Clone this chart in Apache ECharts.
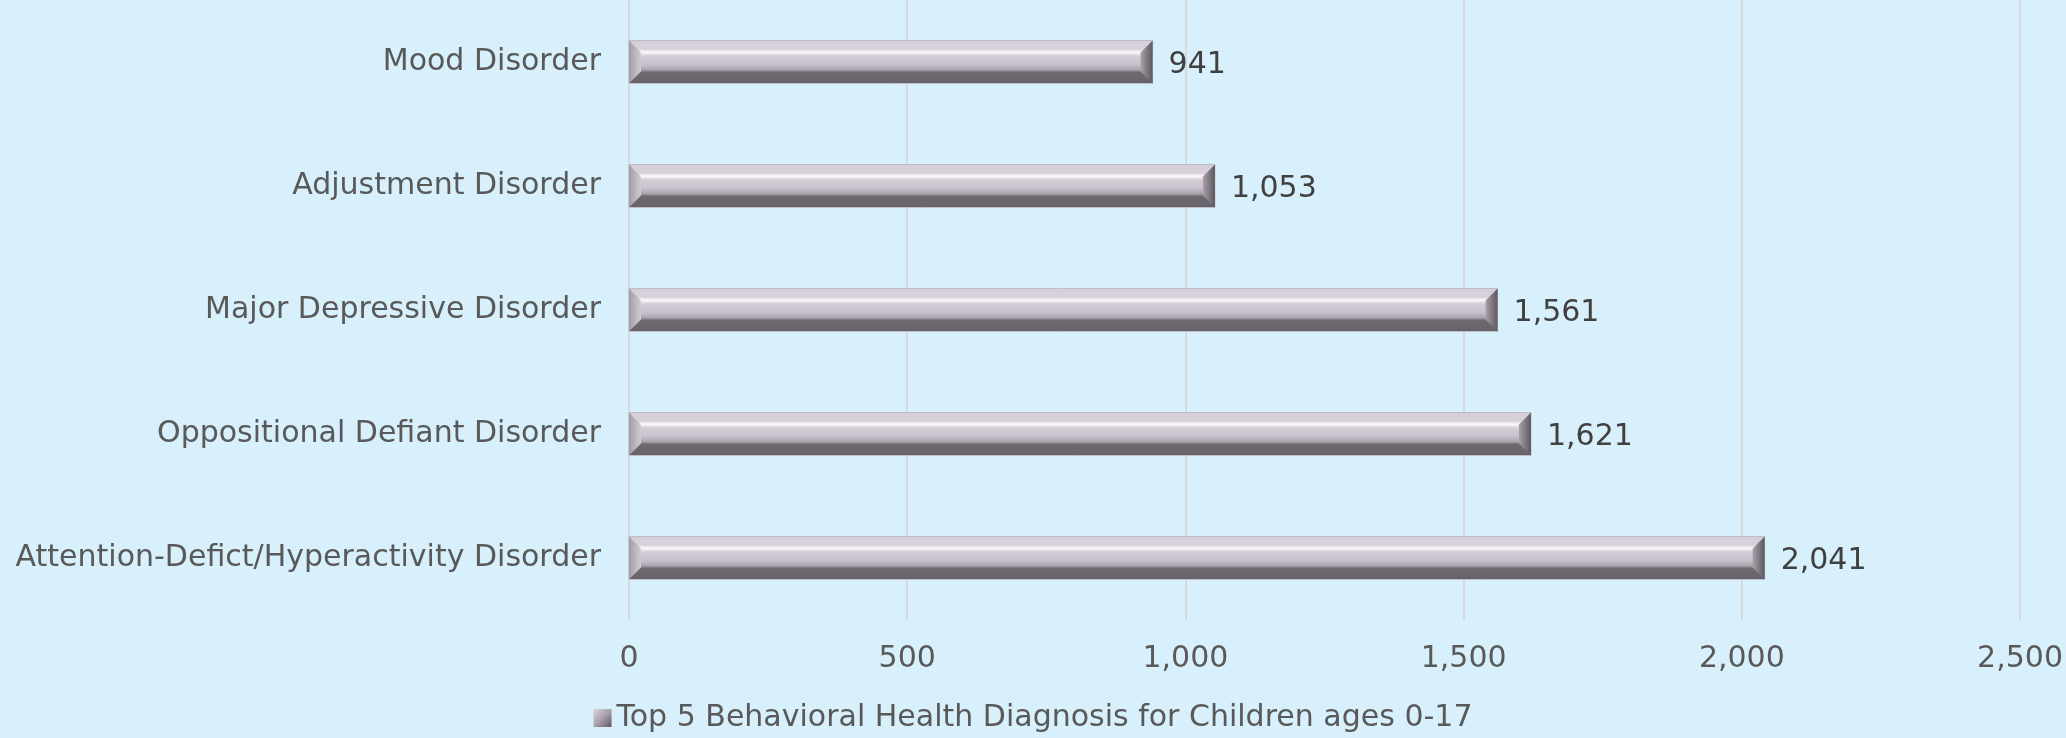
<!DOCTYPE html>
<html><head><meta charset="utf-8">
<style>html,body{margin:0;padding:0;background:#d8f0fb;}#c{width:2066px;height:738px;}</style>
<script src="https://cdn.jsdelivr.net/npm/echarts@6/dist/echarts.min.js"></script>
</head><body><div id="c"></div>
<script>
const categories = ['Mood Disorder','Adjustment Disorder','Major Depressive Disorder','Oppositional Defiant Disorder','Attention-Defict/Hyperactivity Disorder'];
const values = [941, 1053, 1561, 1621, 2041];
const xTicks = [0, 500, 1000, 1500, 2000, 2500];
const seriesName = 'Top 5 Behavioral Health Diagnosis for Children ages 0-17';

const FONT = 'DejaVu Sans';
const FS = 30;
const chart = echarts.init(document.getElementById('c'), null, {renderer:'canvas'});
const bodyGrad = (y0, y1) => new echarts.graphic.LinearGradient(0, y0, 0, y1, [
  {offset:0, color:'#d5cdd8'},{offset:0.2, color:'#d8d0da'},{offset:0.27, color:'#fefafe'},
  {offset:0.36, color:'#d4ccd6'},{offset:0.55, color:'#c9c1cb'},{offset:0.68, color:'#aaa2ac'},
  {offset:0.74, color:'#6e6870'},{offset:1, color:'#67616a'}], true);
chart.setOption({
  backgroundColor:'#d8f0fb',
  animation:false,
  grid:{left:629, right:37, top:0, bottom:118, containLabel:false},
  legend:{bottom:0, left:'center', itemWidth:18, itemHeight:18, itemGap:6,
    textStyle:{fontFamily:FONT, fontSize:FS, color:'#595959'},
    data:[{name:seriesName, icon:'rect', itemStyle:{color:new echarts.graphic.LinearGradient(0,0,1,1,[{offset:0,color:'#dcd4de'},{offset:0.5,color:'#a8a0aa'},{offset:1,color:'#5e5860'}])}}]},
  xAxis:{type:'value', min:0, max:2500, interval:500,
    axisLine:{show:false}, axisTick:{show:false},
    splitLine:{lineStyle:{color:'#d9d9d9', width:2}},
    axisLabel:{fontFamily:FONT, fontSize:FS, color:'#595959', margin:24,
      formatter:v => xTicks.includes(v) ? v.toLocaleString('en-US') : ''}},
  yAxis:{type:'category', data:categories, inverse:true,
    axisLine:{show:false}, axisTick:{show:false},
    axisLabel:{fontFamily:FONT, fontSize:FS, color:'#595959', margin:28, padding:[5,0,0,0]}},
  series:[{
    type:'custom', name:seriesName,
    encode:{x:0, y:1},
    data: values.map((v,i)=>[v,i]),
    renderItem:(params, api)=>{
      const p0 = api.coord([0, api.value(1)]);
      const p1 = api.coord([api.value(0), api.value(1)]);
      const h = 43, b = 12;
      const x0 = p0[0], x1 = p1[0], y0 = p0[1]-h/2, y1 = p0[1]+h/2;
      return {type:'group', children:[
        {type:'rect', shape:{x:x0, y:y0, width:x1-x0, height:h},
          style:{fill:bodyGrad(y0,y1), stroke:'#b8bfc7', lineWidth:1}},
        {type:'polygon', shape:{points:[[x0,y0],[x0+b,y0+b],[x0+b,y1-b],[x0,y1]]},
          style:{fill:new echarts.graphic.LinearGradient(x0,0,x0+b,0,[{offset:0,color:'#a39ba5'},{offset:1,color:'#d2cad4'}],true)}},
        {type:'polygon', shape:{points:[[x1,y0],[x1-b,y0+b],[x1-b,y1-b],[x1,y1]]},
          style:{fill:new echarts.graphic.LinearGradient(x1-b,0,x1,0,[{offset:0,color:'#a8a0aa'},{offset:1,color:'#5c575e'}],true)}},
        {type:'text', x:x1+16, y:p0[1]+3, style:{text:api.value(0).toLocaleString('en-US'),
          fontFamily:FONT, fontSize:FS, fill:'#404040', verticalAlign:'middle', align:'left'}}
      ]};
    }
  }]
});
</script></body></html>
